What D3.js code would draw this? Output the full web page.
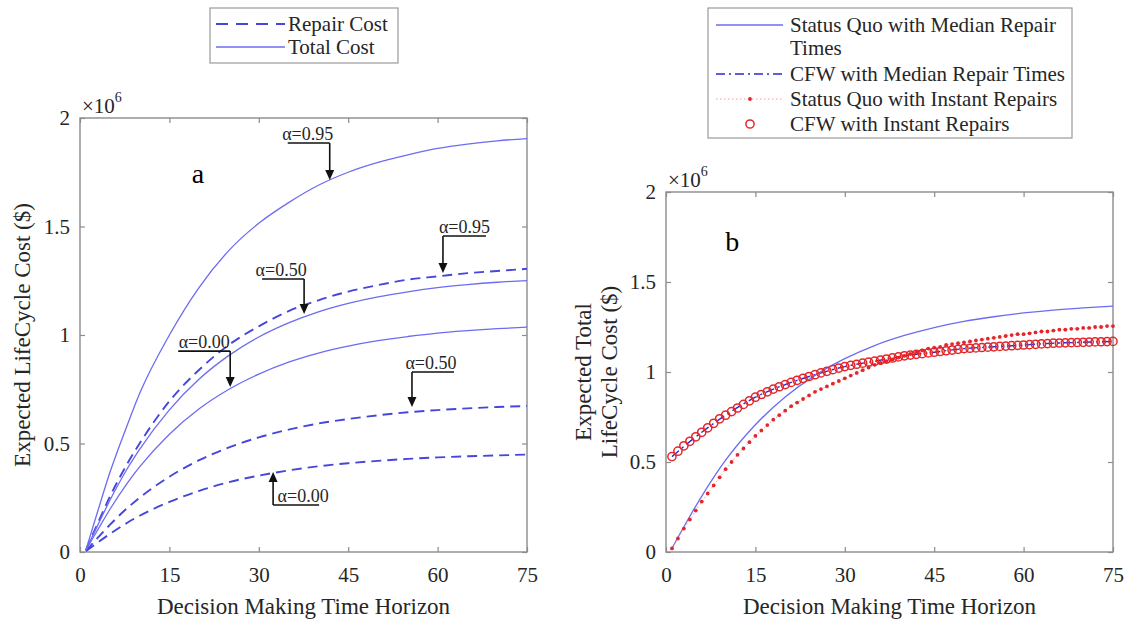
<!DOCTYPE html>
<html><head><meta charset="utf-8">
<script src="https://cdn.jsdelivr.net/npm/d3@7"></script>
<style>
body{margin:0;background:#fff;}
svg{display:block;}
svg text{font-family:"Liberation Serif","Nimbus Roman","Nimbus Roman No9 L","FreeSerif","Tinos","Noto Serif","DejaVu Serif","Times New Roman",Times,serif;}
</style></head><body>
<svg id="chart" width="1134" height="625"></svg>
<script>
// ---------- Panel a: expected life-cycle cost, millions of $ ----------
const yearsA   = [1, 3, 5, 8, 10, 15, 20, 25, 30, 35, 40, 45, 50, 55, 60, 65, 70, 75];
const totalA95 = [0.01, 0.19, 0.365, 0.59, 0.73, 1.0, 1.22, 1.39, 1.515, 1.61, 1.69, 1.75, 1.795, 1.83, 1.86, 1.88, 1.895, 1.905];
const totalA50 = [0.01, 0.125, 0.237, 0.387, 0.473, 0.655, 0.797, 0.906, 0.991, 1.056, 1.107, 1.146, 1.176, 1.199, 1.218, 1.232, 1.243, 1.251];
const totalA00 = [0.01, 0.103, 0.196, 0.32, 0.392, 0.543, 0.66, 0.75, 0.82, 0.875, 0.917, 0.949, 0.974, 0.993, 1.009, 1.02, 1.029, 1.036];
const repairA95 = [0.01, 0.134, 0.254, 0.41, 0.50, 0.695, 0.84, 0.955, 1.04, 1.11, 1.16, 1.20, 1.23, 1.255, 1.27, 1.285, 1.295, 1.305];
const repairA50 = [0.005, 0.066, 0.125, 0.204, 0.25, 0.347, 0.423, 0.482, 0.528, 0.564, 0.592, 0.613, 0.63, 0.644, 0.654, 0.662, 0.668, 0.673];
const repairA00 = [0.004, 0.044, 0.083, 0.136, 0.167, 0.231, 0.282, 0.322, 0.352, 0.376, 0.395, 0.409, 0.42, 0.429, 0.436, 0.441, 0.445, 0.449];

// alpha call-outs: label, target point (year, value), arm length and stem length in px
const alphaNotes = [
  {label: "α=0.95", year: 41.9, value: 1.714, arm: -42, stem: -37, dx: -1},
  {label: "α=0.95", year: 60.9, value: 1.286, arm: 43, stem: -37, dx: 0},
  {label: "α=0.50", year: 37.6, value: 1.097, arm: -42, stem: -35, dx: -2},
  {label: "α=0.00", year: 25.2, value: 0.760, arm: -52, stem: -36, dx: 0},
  {label: "α=0.50", year: 55.7, value: 0.668, arm: 42, stem: -35, dx: -2},
  {label: "α=0.00", year: 32.4, value: 0.369, arm: 46, stem: 33, dx: 7}
];

// ---------- Panel b: expected total life-cycle cost, millions of $ ----------
const yearsB = d3.range(1, 76);
const statusQuoMedianYears = [1, 3, 5, 8, 10, 15, 20, 25, 30, 35, 40, 45, 50, 55, 60, 65, 70, 75];
const statusQuoMedian = [0.02, 0.14, 0.255, 0.415, 0.51, 0.707, 0.861, 0.981, 1.074, 1.147, 1.203, 1.247, 1.281, 1.307, 1.328, 1.344, 1.356, 1.366];
const cfwMedianYears = [1, 5, 10, 15, 20, 25, 30, 35, 40, 45, 50, 55, 60, 65, 70, 75];
const cfwMedian = [0.53, 0.64, 0.76, 0.86, 0.93, 0.985, 1.03, 1.06, 1.09, 1.11, 1.13, 1.14, 1.15, 1.16, 1.165, 1.17];
const statusQuoInstant = [
  0.02, 0.075, 0.13, 0.18, 0.23, 0.28, 0.325, 0.37, 0.415, 0.46,
  0.50, 0.54, 0.575, 0.61, 0.645, 0.675, 0.705, 0.735, 0.76, 0.785,
  0.81, 0.83, 0.85, 0.87, 0.89, 0.905, 0.92, 0.935, 0.95, 0.965,
  0.98, 0.995, 1.01, 1.025, 1.04, 1.05, 1.06, 1.07, 1.08, 1.09,
  1.10, 1.11, 1.12, 1.13, 1.135, 1.14, 1.15, 1.155, 1.16, 1.165,
  1.17, 1.175, 1.18, 1.185, 1.19, 1.195, 1.20, 1.205, 1.21, 1.21,
  1.215, 1.22, 1.225, 1.225, 1.23, 1.235, 1.235, 1.24, 1.24, 1.245,
  1.245, 1.25, 1.25, 1.255, 1.255
];
const cfwInstant = [
  0.53, 0.56, 0.59, 0.615, 0.64, 0.665, 0.69, 0.715, 0.74, 0.76,
  0.78, 0.80, 0.82, 0.84, 0.86, 0.875, 0.89, 0.905, 0.918, 0.93,
  0.942, 0.954, 0.965, 0.975, 0.985, 0.995, 1.004, 1.013, 1.022, 1.03,
  1.037, 1.043, 1.049, 1.055, 1.06, 1.066, 1.072, 1.078, 1.084, 1.09,
  1.094, 1.098, 1.102, 1.106, 1.11, 1.114, 1.118, 1.122, 1.126, 1.13,
  1.132, 1.134, 1.136, 1.138, 1.14, 1.142, 1.144, 1.146, 1.148, 1.15,
  1.152, 1.154, 1.156, 1.158, 1.16, 1.161, 1.162, 1.163, 1.164, 1.165,
  1.166, 1.167, 1.168, 1.169, 1.17
];

// shared axis settings
const xTicks = [0, 15, 30, 45, 60, 75];
const yTicks = [0, 0.5, 1, 1.5, 2];
const yTickText = ["0", "0.5", "1", "1.5", "2"];
const xTitle = "Decision Making Time Horizon";

const BLUE_SOLID = "#6c6cf2";
const BLUE_DASH = "#4646dc";
const BLUE_DARK = "#2a2ad2";
const RED = "#e3262b";
const AXIS_GRAY = "#8c8c8c";
const TEXT = "#262626";

const svg = d3.select("#chart");

function drawFrame(x, y) {
  const g = svg.append("g");
  const [x0, x1] = x.range();
  const [y0, y1] = y.range();
  const fmtY = d => yTickText[yTicks.indexOf(d)];

  g.append("g").attr("transform", `translate(0,${y0})`)
    .call(d3.axisBottom(x).tickValues(xTicks).tickSizeInner(-5).tickSizeOuter(0).tickPadding(15))
    .call(a => a.selectAll("text").attr("font-size", 21).attr("fill", TEXT));
  g.append("g").attr("transform", `translate(0,${y1})`)
    .call(d3.axisTop(x).tickValues(xTicks).tickSizeInner(-5).tickSizeOuter(0).tickFormat(""));
  g.append("g").attr("transform", `translate(${x0},0)`)
    .call(d3.axisLeft(y).tickValues(yTicks).tickFormat(fmtY).tickSizeInner(-5).tickSizeOuter(0).tickPadding(10))
    .call(a => a.selectAll("text").attr("font-size", 21).attr("fill", TEXT));
  g.append("g").attr("transform", `translate(${x1},0)`)
    .call(d3.axisRight(y).tickValues(yTicks).tickSizeInner(-5).tickSizeOuter(0).tickFormat(""));
  g.selectAll(".domain").remove();
  g.selectAll(".tick line").attr("stroke", AXIS_GRAY).attr("stroke-width", 1.2);
  g.append("rect").attr("x", x0).attr("y", y1).attr("width", x1 - x0).attr("height", y0 - y1)
    .attr("fill", "none").attr("stroke", AXIS_GRAY).attr("stroke-width", 1.4);

  // exponent marker
  const e = g.append("text").attr("x", x0 + 2).attr("y", y1 - 5)
    .attr("font-size", 21).attr("fill", TEXT);
  e.append("tspan").text("×10");
  e.append("tspan").attr("font-size", 14).attr("dy", -11).text("6");

  g.append("text").attr("x", (x0 + x1) / 2).attr("y", 614).attr("text-anchor", "middle")
    .attr("font-size", 23).attr("fill", TEXT).text(xTitle);
  return g;
}

// ================= Panel a =================
const xa = d3.scaleLinear().domain([0, 75]).range([80, 527]);
const ya = d3.scaleLinear().domain([0, 2]).range([552, 118]);
drawFrame(xa, ya);

svg.append("text").attr("transform", `translate(30,${(552 + 118) / 2}) rotate(-90)`)
  .attr("text-anchor", "middle").attr("font-size", 23).attr("fill", TEXT)
  .text("Expected LifeCycle Cost ($)");

const lineA = d3.line().x((d, i) => xa(yearsA[i])).y(d => ya(d)).curve(d3.curveMonotoneX);
const plotA = svg.append("g");
[repairA95, repairA50, repairA00].forEach(s => {
  plotA.append("path").attr("d", lineA(s)).attr("fill", "none")
    .attr("stroke", BLUE_DASH).attr("stroke-width", 1.9).attr("stroke-dasharray", "10,6");
});
[totalA95, totalA50, totalA00].forEach(s => {
  plotA.append("path").attr("d", lineA(s)).attr("fill", "none")
    .attr("stroke", BLUE_SOLID).attr("stroke-width", 1.3);
});

svg.append("text").attr("x", xa(19.8)).attr("y", ya(1.737) + 8).attr("text-anchor", "middle")
  .attr("font-size", 28).attr("fill", "#000").text("a");

// call-outs: elbow line with an arrowhead landing on the curve
alphaNotes.forEach(n => {
  const tx = xa(n.year), ty = ya(n.value);
  const head = 10 * Math.sign(n.stem); // arrowhead base sits on the stem side
  const ey = ty + n.stem;
  const g = svg.append("g");
  g.append("line").attr("x1", tx).attr("y1", ey).attr("x2", tx).attr("y2", ty + head)
    .attr("stroke", "#111").attr("stroke-width", 1.6);
  g.append("line").attr("x1", tx).attr("y1", ey).attr("x2", tx + n.arm).attr("y2", ey)
    .attr("stroke", "#111").attr("stroke-width", 1.6);
  g.append("path").attr("d", `M${tx},${ty} L${tx - 4.5},${ty + head} L${tx + 4.5},${ty + head} Z`)
    .attr("fill", "#111");
  g.append("text").attr("x", tx + n.arm / 2 + n.dx).attr("y", ey - 3).attr("text-anchor", "middle")
    .attr("font-size", 18).attr("fill", TEXT).text(n.label);
});

// legend a
const legA = svg.append("g");
legA.append("rect").attr("x", 210).attr("y", 8).attr("width", 188).attr("height", 55)
  .attr("fill", "#fff").attr("stroke", "#9a9a9a").attr("stroke-width", 1.2);
legA.append("line").attr("x1", 216).attr("x2", 285).attr("y1", 24).attr("y2", 24)
  .attr("stroke", BLUE_DASH).attr("stroke-width", 1.9).attr("stroke-dasharray", "12,8");
legA.append("line").attr("x1", 216).attr("x2", 285).attr("y1", 47).attr("y2", 47)
  .attr("stroke", BLUE_SOLID).attr("stroke-width", 1.3);
legA.append("text").attr("x", 288).attr("y", 31).attr("font-size", 21).attr("fill", TEXT).text("Repair Cost");
legA.append("text").attr("x", 288).attr("y", 54).attr("font-size", 21).attr("fill", TEXT).text("Total Cost");

// ================= Panel b =================
const xb = d3.scaleLinear().domain([0, 75]).range([666, 1113]);
const yb = d3.scaleLinear().domain([0, 2]).range([552, 192]);
drawFrame(xb, yb);

const yLab = svg.append("text").attr("transform", `translate(596,${(552 + 192) / 2}) rotate(-90)`)
  .attr("text-anchor", "middle").attr("font-size", 23).attr("fill", TEXT);
yLab.append("tspan").attr("x", 0).attr("dy", -5).text("Expected Total");
yLab.append("tspan").attr("x", 0).attr("dy", 26).text("LifeCycle Cost ($)");

const plotB = svg.append("g");
const lineSQM = d3.line().x((d, i) => xb(statusQuoMedianYears[i])).y(d => yb(d)).curve(d3.curveMonotoneX);
const lineCFWM = d3.line().x((d, i) => xb(cfwMedianYears[i])).y(d => yb(d)).curve(d3.curveMonotoneX);
const lineYear = d3.line().x((d, i) => xb(yearsB[i])).y(d => yb(d));

plotB.append("path").attr("d", lineCFWM(cfwMedian)).attr("fill", "none")
  .attr("stroke", BLUE_DARK).attr("stroke-width", 1.4).attr("stroke-dasharray", "9,4,2,4");
plotB.append("path").attr("d", lineSQM(statusQuoMedian)).attr("fill", "none")
  .attr("stroke", BLUE_SOLID).attr("stroke-width", 1.3);
plotB.append("path").attr("d", lineYear(statusQuoInstant)).attr("fill", "none")
  .attr("stroke", "#f29a9a").attr("stroke-width", 1).attr("stroke-dasharray", "1.5,2.5");
plotB.selectAll("circle.sqi").data(statusQuoInstant).join("circle").attr("class", "sqi")
  .attr("cx", (d, i) => xb(yearsB[i])).attr("cy", d => yb(d)).attr("r", 1.9).attr("fill", RED);
plotB.selectAll("circle.cfwi").data(cfwInstant).join("circle").attr("class", "cfwi")
  .attr("cx", (d, i) => xb(yearsB[i])).attr("cy", d => yb(d)).attr("r", 4.1)
  .attr("fill", "none").attr("stroke", RED).attr("stroke-width", 1.5);

svg.append("text").attr("x", xb(11.1)).attr("y", yb(1.72) + 9).attr("text-anchor", "middle")
  .attr("font-size", 28).attr("fill", "#000").text("b");

// legend b
const legB = svg.append("g");
legB.append("rect").attr("x", 708).attr("y", 8).attr("width", 364).attr("height", 130)
  .attr("fill", "#fff").attr("stroke", "#9a9a9a").attr("stroke-width", 1.2);
legB.append("line").attr("x1", 716).attr("x2", 783).attr("y1", 25).attr("y2", 25)
  .attr("stroke", BLUE_SOLID).attr("stroke-width", 1.3);
legB.append("line").attr("x1", 716).attr("x2", 783).attr("y1", 74).attr("y2", 74)
  .attr("stroke", BLUE_DARK).attr("stroke-width", 1.4).attr("stroke-dasharray", "9,4,2,4");
legB.append("line").attr("x1", 716).attr("x2", 783).attr("y1", 99).attr("y2", 99)
  .attr("stroke", "#f29a9a").attr("stroke-width", 1).attr("stroke-dasharray", "1.5,2.5");
legB.append("circle").attr("cx", 750).attr("cy", 99).attr("r", 1.9).attr("fill", RED);
legB.append("circle").attr("cx", 750).attr("cy", 124).attr("r", 4.1)
  .attr("fill", "none").attr("stroke", RED).attr("stroke-width", 1.5);
const legBText = [
  ["Status Quo with Median Repair", 32],
  ["Times", 55],
  ["CFW with Median Repair Times", 81],
  ["Status Quo with Instant Repairs", 106],
  ["CFW with Instant Repairs", 131]
];
legBText.forEach(([t, y]) => legB.append("text").attr("x", 790).attr("y", y)
  .attr("font-size", 21).attr("fill", TEXT).text(t));
</script>
</body></html>
